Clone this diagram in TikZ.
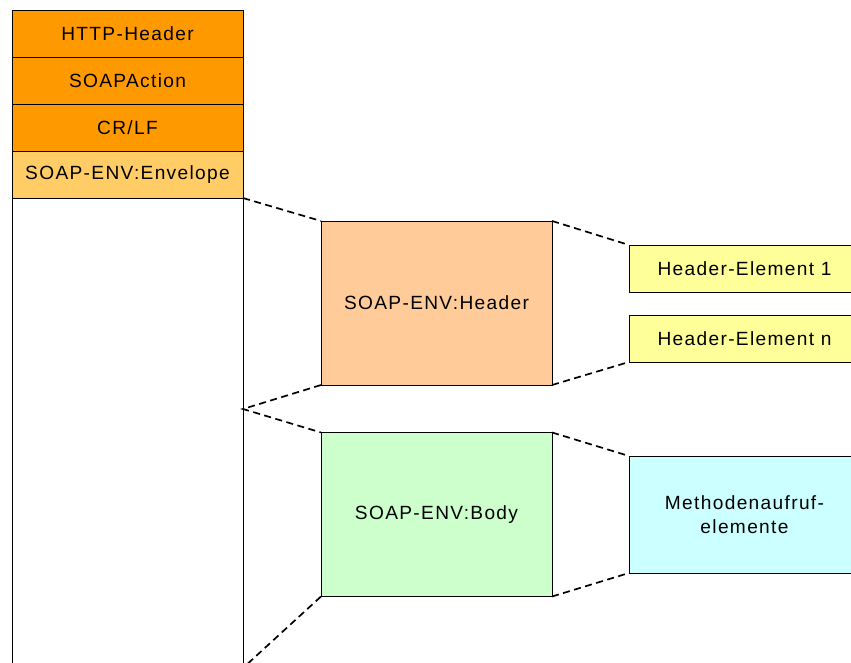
\documentclass[tikz,border=0pt]{standalone}
\usepackage{fontspec}
\setmainfont{Liberation Sans}[LetterSpace=7]
\usetikzlibrary{positioning}
\definecolor{httporange}{RGB}{255,153,0}
\definecolor{envorange}{RGB}{255,204,102}
\definecolor{hdrpeach}{RGB}{255,204,153}
\definecolor{bodygreen}{RGB}{204,255,204}
\definecolor{elemyellow}{RGB}{255,255,153}
\definecolor{methcyan}{RGB}{204,255,255}

\tikzset{
  layer/.style={draw, line width=0.6pt, outer sep=0pt, inner sep=2pt,
    minimum width=5.775cm, minimum height=1.175cm, align=center,
    font=\fontsize{13.6}{17}\selectfont},
  part/.style={layer, minimum height=4.1cm},
  link/.style={line width=1.2pt, dash pattern=on 5pt off 3.2pt}
}

\begin{document}
\begin{tikzpicture}[x=0.025cm, y=-0.025cm]
  \useasboundingbox (0,0) rectangle (851,663);
  \clip (0,0) rectangle (851,663);

  % HTTP message stack
  \node[layer, fill=httporange] (http) at (127.5, 33.5) {HTTP-Header};
  \node[layer, fill=httporange, below=0pt of http] (action) {SOAPAction};
  \node[layer, fill=httporange, below=0pt of action] (crlf) {CR/LF};
  \node[layer, fill=envorange, below=0pt of crlf] (env) {SOAP-ENV:Envelope};
  \node[layer, fill=white, minimum height=12.5cm, below=0pt of env] (envbody) {};

  % envelope parts
  \node[part, fill=hdrpeach] (hdr) at (436.5, 303) {SOAP-ENV:Header};
  \node[part, fill=bodygreen] (body) at (436.5, 514.5) {SOAP-ENV:Body};

  % contents
  \node[layer, fill=elemyellow] (he1) at (744.5, 268.5) {Header-Element 1};
  \node[layer, fill=elemyellow] (hen) at (744.5, 338.5) {Header-Element n};
  \node[layer, fill=methcyan, minimum height=2.925cm] (meth) at (744.5, 514.5) {Methodenaufruf-\\elemente};

  \coordinate (split) at (243, 409);
  \coordinate (bodyend) at (243, 668);

  % zoom lines
  \draw[link] (env.south east) -- (hdr.north west);
  \draw[link] (hdr.south west) -- (split) -- (body.north west);
  \draw[link] (body.south west) -- (bodyend);
  \draw[link] (hdr.north east) -- (he1.north west);
  \draw[link] (hdr.south east) -- (hen.south west);
  \draw[link] (body.north east) -- (meth.north west);
  \draw[link] (body.south east) -- (meth.south west);
\end{tikzpicture}
\end{document}
